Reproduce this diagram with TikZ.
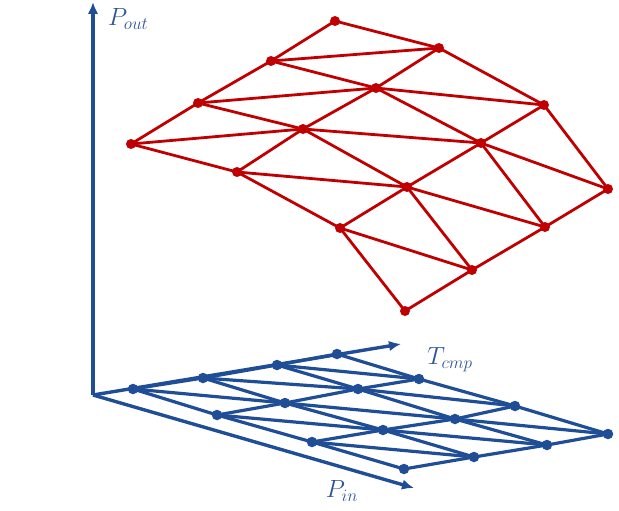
\documentclass[tikz,border=0pt]{standalone}
\usetikzlibrary{arrows.meta}
\definecolor{axblue}{RGB}{31,78,150}
\definecolor{txtblue}{RGB}{47,85,151}
\definecolor{meshred}{RGB}{192,0,0}
\newcommand{\subtxt}[1]{\hbox{\fontsize{17}{20}\selectfont$#1$}}
\begin{document}
\begin{tikzpicture}[x=1pt,y=-1pt,
  axis/.style={axblue, line width=3.4pt, -{Latex[length=12pt,width=10.5pt]}},
  redline/.style={meshred, line width=2.8pt, line cap=round},
  blueline/.style={axblue, line width=3.2pt, line cap=round},
  reddot/.style={circle, fill=meshred, inner sep=0pt, minimum size=10pt},
  bluedot/.style={circle, fill=axblue, inner sep=0pt, minimum size=10.5pt},
  lbl/.style={text=txtblue, inner sep=0pt, font=\fontsize{23}{27}\selectfont}]
\useasboundingbox (0,0) rectangle (619,511);

% axes
\coordinate (O) at (93,395);
\coordinate (ztip) at (93,2);
\coordinate (ttip) at (401,344);
\coordinate (ptip) at (414,488);
\draw[axis] (O) -- (ztip);
\draw[axis] (O) -- (ttip);
\draw[axis] (O) -- (ptip);

\node[lbl, anchor=west] (pout) at (108,19) {$P_{\subtxt{out}}$};
\node[lbl] (tcmp) at (450,360) {$T_{\subtxt{cmp}}$};
\node[lbl] (pin) at (342,491) {$P_{\subtxt{in}}$};

% blue mesh (projection)
\foreach \n/\x/\y in {b00/133/389, b10/203/378, b20/277/365, b30/337/354,
                      b01/217/415, b11/285/403, b21/358/389, b31/419/379,
                      b02/312/442, b12/383/430, b22/455/419, b32/515/406,
                      b03/404/469, b13/474/457, b23/547/445, b33/608/434}
  \node[bluedot] (\n) at (\x,\y) {};

% red mesh (surface)
\foreach \n/\x/\y in {r00/131/144, r01/237/172, r02/340/228, r03/405/311,
                      r10/198/103, r11/303/129, r12/407/187, r13/472/270,
                      r20/271/61,  r21/376/88,  r22/481/143, r23/545/227,
                      r30/335/21,  r31/439/48,  r32/544/105, r33/608/189}
  \node[reddot] (\n) at (\x,\y) {};

\foreach \i in {0,...,3}{
  \foreach \j in {0,1,2}{
    \pgfmathtruncatemacro{\k}{\j+1}
    \draw[blueline] (b\i\j.center) -- (b\i\k.center);
    \draw[redline] (r\i\j.center) -- (r\i\k.center);
    \draw[blueline] (b\j\i.center) -- (b\k\i.center);
    \draw[redline] (r\j\i.center) -- (r\k\i.center);
  }
}
\foreach \i in {0,1,2}{
  \foreach \j in {0,1,2}{
    \pgfmathtruncatemacro{\ii}{\i+1}
    \pgfmathtruncatemacro{\jj}{\j+1}
    \draw[blueline] (b\i\j.center) -- (b\ii\jj.center);
    \draw[redline] (r\i\j.center) -- (r\ii\jj.center);
  }
}
\end{tikzpicture}
\end{document}
